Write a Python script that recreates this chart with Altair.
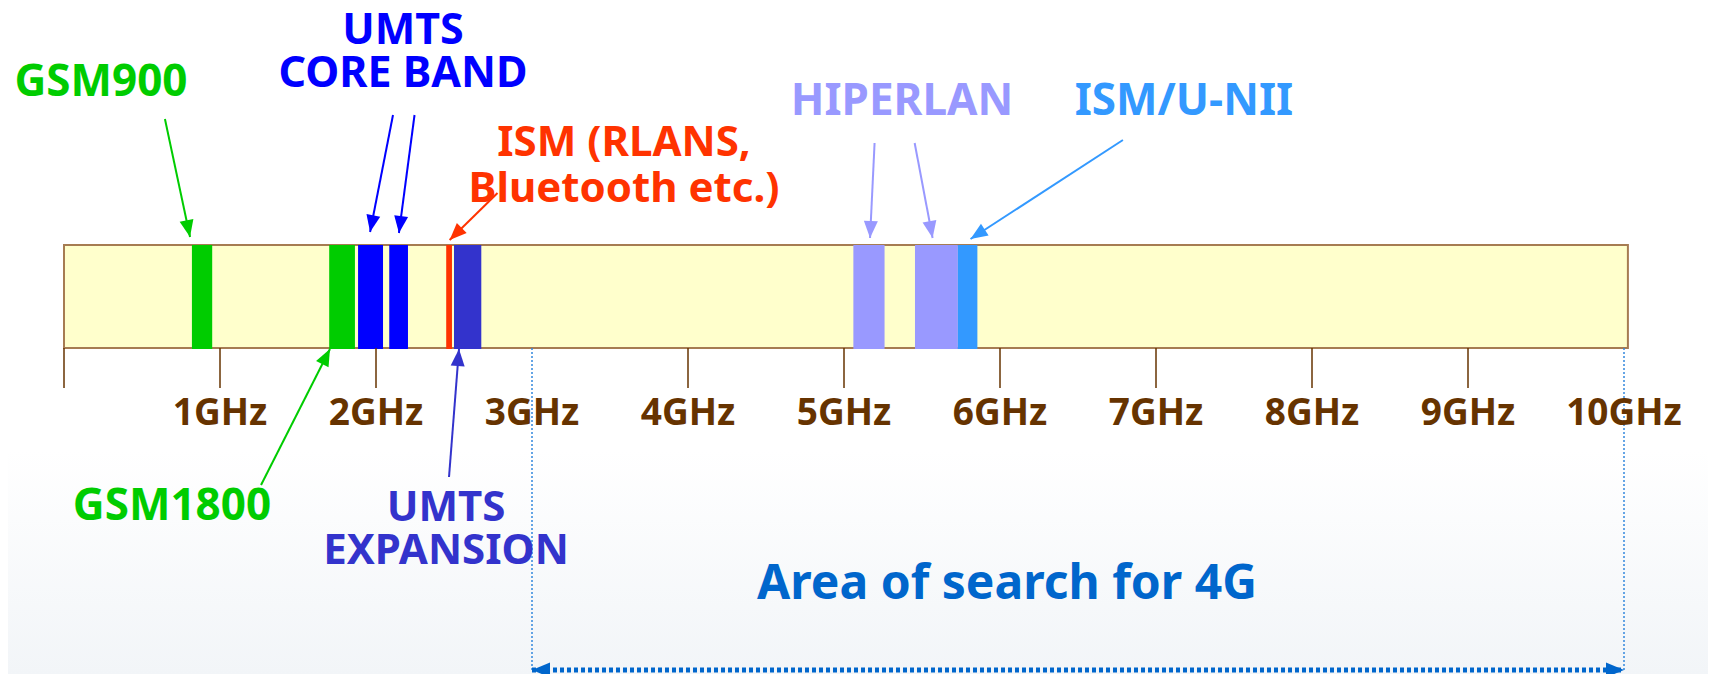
import math
import altair as alt
import pandas as pd

# ---------------- data (frequencies in GHz) ----------------
band_names = ["GSM900", "GSM1800", "UMTS core A", "UMTS core B", "ISM 2.4",
              "UMTS expansion", "HIPERLAN A", "HIPERLAN B", "ISM/U-NII"]
band_start = [0.82, 1.70, 1.885, 2.085, 2.45, 2.50, 5.06, 5.455, 5.73]
band_end = [0.95, 1.865, 2.045, 2.205, 2.487, 2.675, 5.26, 5.73, 5.855]
band_colors = ["#00cc00", "#00cc00", "#0000ff", "#0000ff", "#ff3300",
               "#3333cc", "#9999ff", "#9999ff", "#3399ff"]

spectrum_start = 0
spectrum_end = 10
tick_ghz = [0, 1, 2, 4, 5, 6, 7, 8, 9]
label_ghz = [1, 2, 3, 4, 5, 6, 7, 8, 9, 10]
tick_labels = ["1GHz", "2GHz", "3GHz", "4GHz", "5GHz", "6GHz", "7GHz", "8GHz", "9GHz", "10GHz"]
search_start = 3
search_end = 10
search_text = "Area of search for 4G"

# annotation labels (x in GHz, y of first line in rows from the top of the page)
label_text = ["GSM900", "UMTS\nCORE BAND", "ISM (RLANS,\nBluetooth etc.)",
              "HIPERLAN", "ISM/U-NII", "GSM1800", "UMTS\nEXPANSION"]
label_x = [0.237, 2.173, 3.59, 5.372, 7.179, 0.692, 2.449]
label_y = [83, 31, 143, 102, 102, 507, 508]
label_lh = [44, 43, 46, 44, 44, 44, 43]
label_fs = [44, 43, 42, 44, 44, 44, 42]
label_color = ["#00cc00", "#0000ff", "#ff3300", "#9999ff", "#3399ff", "#00cc00", "#3333cc"]

# annotation arrows (tail -> tip)
arrow_x1 = [0.647, 2.109, 2.247, 2.779, 5.196, 5.453, 6.788, 1.263, 2.468]
arrow_y1 = [119, 115, 115, 193, 143, 143, 140, 485, 477]
arrow_x2 = [0.808, 1.962, 2.147, 2.472, 5.167, 5.568, 5.811, 1.705, 2.532]
arrow_y2 = [237, 232, 233, 240, 238, 238, 239, 349, 349]
arrow_color = ["#00cc00", "#0000ff", "#0000ff", "#ff3300", "#9999ff",
               "#9999ff", "#3399ff", "#00cc00", "#3333cc"]

# ---------------- layout ----------------
W, H = 1700, 666
X0_PX, PX_PER_GHZ = 56, 156
XDOM = [-X0_PX / PX_PER_GHZ, (W - X0_PX) / PX_PER_GHZ]
YDOM = [8, 8 + H]
BAR_TOP, BAR_BOTTOM, TICK_BOTTOM, TICK_LABEL_Y, SEARCH_Y = 245, 348, 388, 414, 670
FONT = "Comic Sans MS, Noto Sans, sans-serif"

xs = alt.Scale(domain=XDOM, nice=False, zero=False)
ys = alt.Scale(domain=YDOM, reverse=True, nice=False, zero=False)


def X(f, **kw):
    return alt.X(f, type="quantitative", scale=xs, axis=None, **kw)


def Y(f, **kw):
    return alt.Y(f, type="quantitative", scale=ys, axis=None, **kw)


HEAD = "M0,0L-0.7,1.7L0.7,1.7Z"

bg = alt.Chart(pd.DataFrame({"a": [XDOM[0]], "b": [XDOM[1]], "t": [450], "u": [8 + H]})).mark_rect(
    color=alt.LinearGradient(gradient="linear", x1=0, x2=0, y1=0, y2=1,
                             stops=[alt.GradientStop(offset=0, color="#ffffff"),
                                    alt.GradientStop(offset=1, color="#f2f5f8")])
).encode(x=X("a"), x2="b", y=Y("t"), y2="u")

bar_df = pd.DataFrame({"s": [spectrum_start], "e": [spectrum_end + 0.025],
                       "t": [BAR_TOP], "b": [BAR_BOTTOM]})
bar = alt.Chart(bar_df).mark_rect(fill="#ffffcc", stroke="#a67c52", strokeWidth=2).encode(
    x=X("s"), x2="e", y=Y("t"), y2="b")

bands_df = pd.DataFrame({"name": band_names, "s": band_start, "e": band_end, "c": band_colors,
                         "t": BAR_TOP, "b": BAR_BOTTOM + 1})
bands = alt.Chart(bands_df).mark_rect().encode(
    x=X("s"), x2="e", y=Y("t"), y2="b", color=alt.Color("c:N", scale=None))

ticks_df = pd.DataFrame({"g": tick_ghz, "t": BAR_BOTTOM, "b": TICK_BOTTOM})
ticks = alt.Chart(ticks_df).mark_rule(color="#663300", strokeWidth=1.5).encode(
    x=X("g"), y=Y("t"), y2="b")

vdot_df = pd.DataFrame({"g": [search_start, search_end], "t": BAR_BOTTOM, "b": SEARCH_Y})
vdot = alt.Chart(vdot_df).mark_rule(color="#3388dd", strokeWidth=1.5, strokeDash=[2, 2]).encode(
    x=X("g"), y=Y("t"), y2="b")

tlab_df = pd.DataFrame({"g": label_ghz, "txt": tick_labels, "y": TICK_LABEL_Y})
tlabels = alt.Chart(tlab_df).mark_text(font=FONT, fontSize=37, fontWeight="bold", color="#663300",
                                       align="center", baseline="middle").encode(
    x=X("g"), y=Y("y"), text="txt:N")

arr_df = pd.DataFrame({"x1": arrow_x1, "y1": arrow_y1, "x2": arrow_x2, "y2": arrow_y2, "c": arrow_color})
arr_df["ang"] = [
    (math.degrees(math.atan2((b - a) * PX_PER_GHZ, -(d - c))) + 360) % 360
    for a, b, c, d in zip(arr_df.x1, arr_df.x2, arr_df.y1, arr_df.y2)
]
arrows = alt.Chart(arr_df).mark_rule(strokeWidth=2).encode(
    x=X("x1"), y=Y("y1"), x2="x2", y2="y2", color=alt.Color("c:N", scale=None))
heads = alt.Chart(arr_df).mark_point(shape=HEAD, filled=True, opacity=1, size=400, strokeWidth=0).encode(
    x=X("x2"), y=Y("y2"), angle=alt.Angle("ang:Q", scale=None), color=alt.Color("c:N", scale=None))

label_layers = []
for t, x, y, lh, fs, c in zip(label_text, label_x, label_y, label_lh, label_fs, label_color):
    d = pd.DataFrame({"x": [x], "y": [y], "txt": [t]})
    label_layers.append(
        alt.Chart(d).mark_text(font=FONT, fontSize=fs, fontWeight="bold", color=c, lineBreak="\n",
                               lineHeight=lh, align="center", baseline="middle").encode(
            x=X("x"), y=Y("y"), text="txt:N"))

search_df = pd.DataFrame({"s": [search_start], "e": [search_end], "y": [SEARCH_Y]})
search_line = alt.Chart(search_df).mark_rule(color="#0066cc", strokeWidth=5, strokeDash=[4, 3]).encode(
    x=X("s"), x2="e", y=Y("y"))
shead_df = pd.DataFrame({"g": [search_start, search_end], "y": SEARCH_Y, "ang": [270, 90]})
sheads = alt.Chart(shead_df).mark_point(shape=HEAD, filled=True, opacity=1, size=450, strokeWidth=0,
                                        color="#0066cc").encode(
    x=X("g"), y=Y("y"), angle=alt.Angle("ang:Q", scale=None))
stext_df = pd.DataFrame({"x": [(search_start + search_end) / 2 - 0.455], "y": [585], "txt": [search_text]})
stext = alt.Chart(stext_df).mark_text(font=FONT, fontSize=48, fontWeight="bold", color="#0066cc",
                                      align="center", baseline="middle").encode(
    x=X("x"), y=Y("y"), text="txt:N")

chart = alt.layer(bg, bar, bands, ticks, vdot, tlabels, arrows, heads, *label_layers,
                  search_line, sheads, stext).properties(
    width=W, height=H, autosize=alt.AutoSizeParams(type="none"), padding=0,
    background="#ffffff"
).configure_view(stroke=None)

chart.save("out.html", embed_options={"renderer": "svg", "actions": False})
